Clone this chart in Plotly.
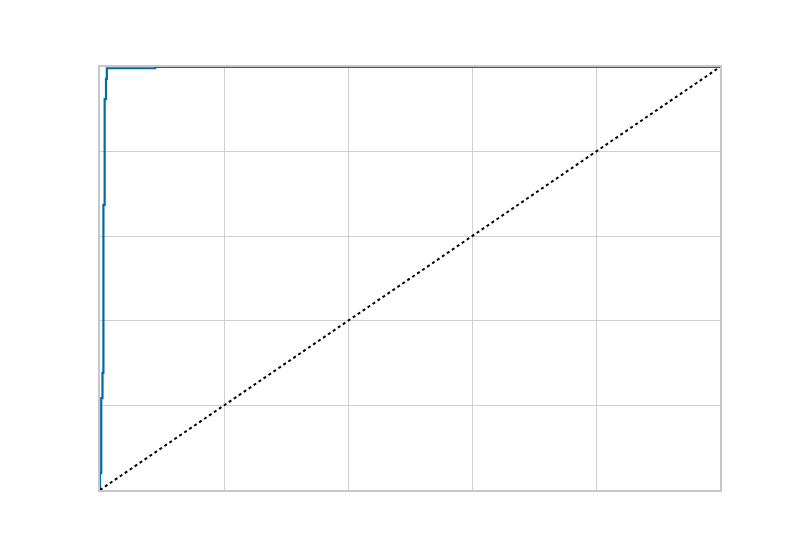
import plotly.graph_objects as go

# ROC curve values
fpr = [0.0, 0.0, 0.002, 0.002, 0.004, 0.004, 0.0055, 0.0055, 0.0075, 0.0075, 0.0097, 0.0097, 0.011, 0.011, 0.089, 0.089, 1.0]
tpr = [0.0, 0.04, 0.04, 0.217, 0.217, 0.277, 0.277, 0.674, 0.674, 0.924, 0.924, 0.972, 0.972, 0.997, 0.997, 1.0, 1.0]
diag_x = [0.0, 1.0]
diag_y = [0.0, 1.0]
grid_vals = [0, 0.2, 0.4, 0.6, 0.8, 1.0]

fig = go.Figure()
fig.add_trace(go.Scatter(x=fpr, y=tpr, mode="lines",
                         line=dict(color="#006BA4", width=2.2), showlegend=False))
fig.add_trace(go.Scatter(x=diag_x, y=diag_y, mode="lines",
                         line=dict(color="black", width=2, dash="dot"), showlegend=False))

axis_common = dict(range=[0, 1], showgrid=True, gridcolor="#d0d0d0", gridwidth=1,
                   tickvals=grid_vals, showticklabels=False, ticks="",
                   showline=True, linecolor="#c4c8cc", linewidth=2, mirror=True,
                   zeroline=False)
fig.update_layout(width=800, height=550,
                  margin=dict(l=92, r=88, t=59, b=68),
                  paper_bgcolor="white", plot_bgcolor="white",
                  xaxis=axis_common, yaxis=axis_common)
fig.write_html("out.html")
